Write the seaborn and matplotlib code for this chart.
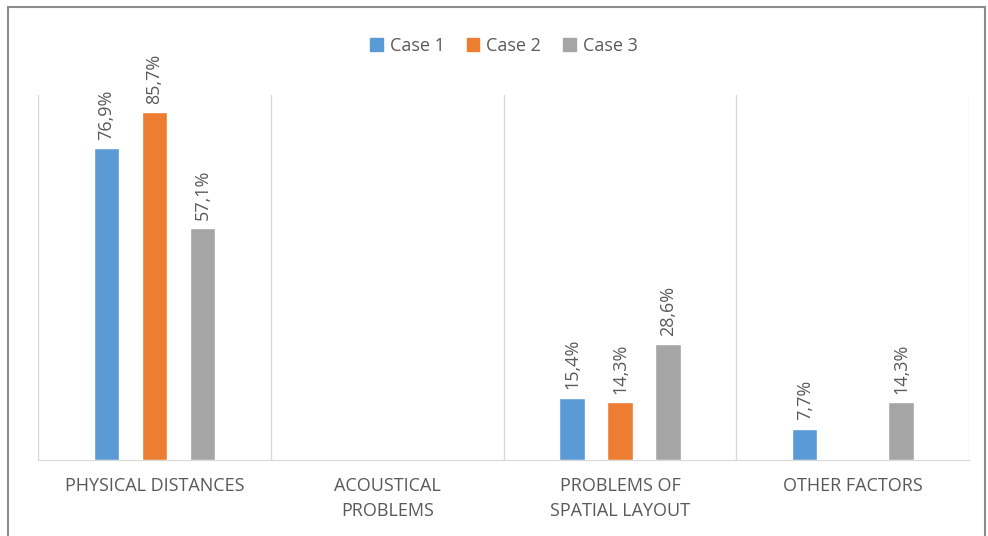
import seaborn as sns
import matplotlib.pyplot as plt
import matplotlib.patches as mpatches
import pandas as pd

# datos
categorias = ["PHYSICAL DISTANCES", "ACOUSTICAL\nPROBLEMS",
              "PROBLEMS OF\nSPATIAL LAYOUT", "OTHER FACTORS"]
casos = ["Case 1", "Case 2", "Case 3"]
case1 = [76.9, 0.0, 15.4, 7.7]
case2 = [85.7, 0.0, 14.3, 0.0]
case3 = [57.1, 0.0, 28.6, 14.3]
colores = ["#5B9BD5", "#ED7D31", "#A5A5A5"]

filas = []
for caso, vals in zip(casos, [case1, case2, case3]):
    for cat, v in zip(categorias, vals):
        filas.append({"cat": cat, "caso": caso, "valor": v})
datos = pd.DataFrame(filas)

sns.set_style("white")
plt.rcParams['font.family'] = ['Open Sans', 'DejaVu Sans']
gris = "#595959"

fig = plt.figure(figsize=(9.88, 5.36), dpi=100)
ax = fig.add_axes([0.0385, 0.1418, 0.9425, 0.681])

sns.barplot(data=datos, x="cat", y="valor", hue="caso", palette=colores,
            width=0.62, gap=0.47, ax=ax, legend=False, saturation=1)

for cont, vals in zip(ax.containers, [case1, case2, case3]):
    etiquetas = [("%.1f%%" % v).replace(".", ",") if v > 0 else "" for v in vals]
    ax.bar_label(cont, labels=etiquetas, rotation=90, padding=6,
                 color=gris, fontsize=13)

ax.set_xlim(-0.5, 3.5)
ax.set_ylim(0, 90)
ax.set_yticks([])
ax.set_xlabel("")
ax.set_ylabel("")
for x in [-0.5, 0.5, 1.5, 2.5, 3.5]:
    ax.axvline(x, color="#d9d9d9", lw=1, zorder=0)
for s in ["top", "right", "left"]:
    ax.spines[s].set_visible(False)
ax.spines["bottom"].set_color("#d9d9d9")
ax.tick_params(axis="x", length=0, pad=12, labelsize=13, labelcolor=gris)
for t in ax.get_xticklabels():
    t.set_linespacing(1.5)

handles = [mpatches.Patch(color=c, label=n) for c, n in zip(colores, casos)]
fig.legend(handles=handles, loc="center", bbox_to_anchor=(0.51, 0.914), ncol=3,
           frameon=False, fontsize=13, handlelength=0.7, handleheight=0.7,
           handletextpad=0.4, columnspacing=1.2, labelcolor=gris)

fig.patches.append(mpatches.Rectangle((0.008, -0.01), 0.989, 0.997,
                                      transform=fig.transFigure, fill=False,
                                      edgecolor="#8c8c8c", lw=1.5))

plt.savefig("out.png", dpi=100)
